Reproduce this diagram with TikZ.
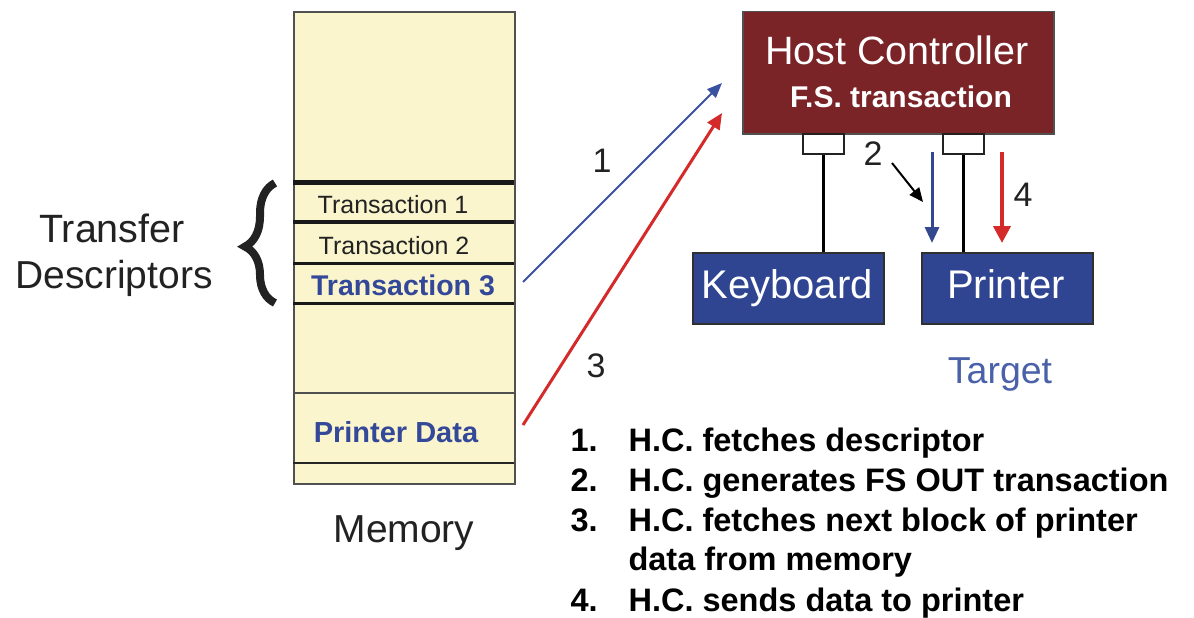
\documentclass[tikz,border=0pt]{standalone}
\usepackage{fontspec}
\setmainfont{Liberation Sans}
\usetikzlibrary{arrows.meta,decorations.pathreplacing}
\definecolor{memfill}{HTML}{FAF5CC}
\definecolor{memborder}{HTML}{505050}
\definecolor{hcred}{HTML}{7A2428}
\definecolor{devblue}{HTML}{2F4592}
\definecolor{txtblue}{HTML}{34489A}
\definecolor{arrblue}{HTML}{3A50A0}
\definecolor{arrred}{HTML}{D42A2A}
\definecolor{tgtblue}{HTML}{4A60A8}
\definecolor{txtdark}{HTML}{222222}
\begin{document}
\begin{tikzpicture}[x=1pt,y=-1pt,
  fs/.style={font=\fontsize{#1}{#1}\selectfont},
  membox/.style={draw=memborder, line width=2, fill=memfill, inner sep=0, anchor=north west},
  devbox/.style={draw=memborder!60!black, line width=1.5, fill=devblue, inner sep=0, anchor=north west},
  port/.style={draw=txtdark, line width=2, fill=white, inner sep=0, anchor=north west, minimum width=41, minimum height=20},
  sep/.style={line width=#1, black!90},
  numlbl/.style={fs=34, anchor=base, text=txtdark},
  item/.style={anchor=base west, text=black, font=\bfseries\fontsize{32.5}{32.5}\selectfont}
]
\useasboundingbox (0,0) rectangle (1194,618);

% memory block
\node[membox, minimum width=221, minimum height=472] (mem) at (293,11) {};
\draw[sep=5] (293,182) -- (514,182);
\draw[sep=4] (293,222) -- (514,222);
\draw[sep=3] (293,263) -- (514,263);
\draw[sep=3] (293,303) -- (514,303);
\draw[line width=2, memborder] (293,393) -- (514,393);
\draw[line width=2, black!85] (293,463) -- (514,463);

\node[fs=25, anchor=base, text=txtdark] (t1) at (393,213) {Transaction 1};
\node[fs=25, anchor=base, text=txtdark] (t2) at (394,254) {Transaction 2};
\node[anchor=base, text=txtblue, font=\bfseries\fontsize{28.5}{28.5}\selectfont] (t3) at (403,295) {Transaction 3};
\node[anchor=base, text=txtblue, font=\bfseries\fontsize{29}{29}\selectfont] (pd) at (396,442) {Printer Data};
\node[fs=39, anchor=base, text=txtdark] (memlbl) at (404,542) {Memory};

% transfer descriptors
\node[fs=39.5, anchor=base, text=txtdark] (tr) at (112,242) {Transfer};
\node[fs=39, anchor=base, text=txtdark] (de) at (114,288) {Descriptors};
\draw[decorate, decoration={brace, amplitude=30, aspect=0.47}, line width=8, txtdark] (275,303) -- (275,183);

% host controller
\node[draw=memborder, line width=1.5, fill=hcred, inner sep=0, anchor=north west, minimum width=311, minimum height=122] (hc) at (742,11) {};
\node[fs=39.5, anchor=base, text=white] (hct) at (897,65) {Host Controller};
\node[anchor=base, text=white, font=\bfseries\fontsize{30}{30}\selectfont] (fst) at (901,107) {F.S. transaction};

% ports
\node[port] (p1) at (802,133) {};
\node[port] (p2) at (942,133) {};

% devices
\node[devbox, minimum width=191, minimum height=71] (kb) at (692,252) {};
\node[fs=40, anchor=base, text=white] (kbt) at (787,298) {Keyboard};
\node[devbox, minimum width=171, minimum height=71] (pr) at (921,252) {};
\node[fs=40, anchor=base, text=white] (prt) at (1006,298) {Printer};
\node[fs=37.5, anchor=base, text=tgtblue] (tgt) at (1000,383) {Target};

% cables
\draw[line width=3, black] (p1.south) -- (kb.north -| p1.south);
\draw[line width=3, black] (p2.south) -- (pr.north -| p2.south);

% transfer arrows
\coordinate (a1s) at (523,282);
\coordinate (a1e) at (722,83);
\coordinate (a3s) at (523,425);
\coordinate (a3e) at (722,113);
\draw[arrblue, line width=2, -{Triangle[length=15, width=12]}] (a1s) -- (a1e);
\draw[arrred, line width=3, -{Triangle[length=16, width=14]}] (a3s) -- (a3e);
\node[numlbl] (n1) at (602,172) {1};
\node[numlbl] (n3) at (596,377) {3};

\coordinate (d2s) at (932,152);
\coordinate (d2e) at (932,243);
\coordinate (d4s) at (1002,152);
\coordinate (d4e) at (1002,243);
\draw[arrblue!90!black, line width=3, -{Triangle[length=16, width=14]}] (d2s) -- (d2e);
\draw[arrred, line width=4, -{Triangle[length=17, width=17]}] (d4s) -- (d4e);
\node[numlbl] (n2) at (873,165) {2};
\node[numlbl] (n4) at (1023,206) {4};
\coordinate (b2s) at (892,163);
\coordinate (b2e) at (923,202);
\draw[black, line width=2, -{Triangle[length=14, width=12]}] (b2s) -- (b2e);

% list
\node[item] (l1n) at (567,451) {1.};
\node[item] (l1) at (625,451) {H.C. fetches descriptor};
\node[item] (l2n) at (567,491) {2.};
\node[item] (l2) at (625,491) {H.C. generates FS OUT transaction};
\node[item] (l3n) at (567,531) {3.};
\node[item] (l3) at (625,531) {H.C. fetches next block of printer};
\node[item] (l3b) at (625,570) {data from memory};
\node[item] (l4n) at (567,611) {4.};
\node[item] (l4) at (625,611) {H.C. sends data to printer};
\end{tikzpicture}
\end{document}
